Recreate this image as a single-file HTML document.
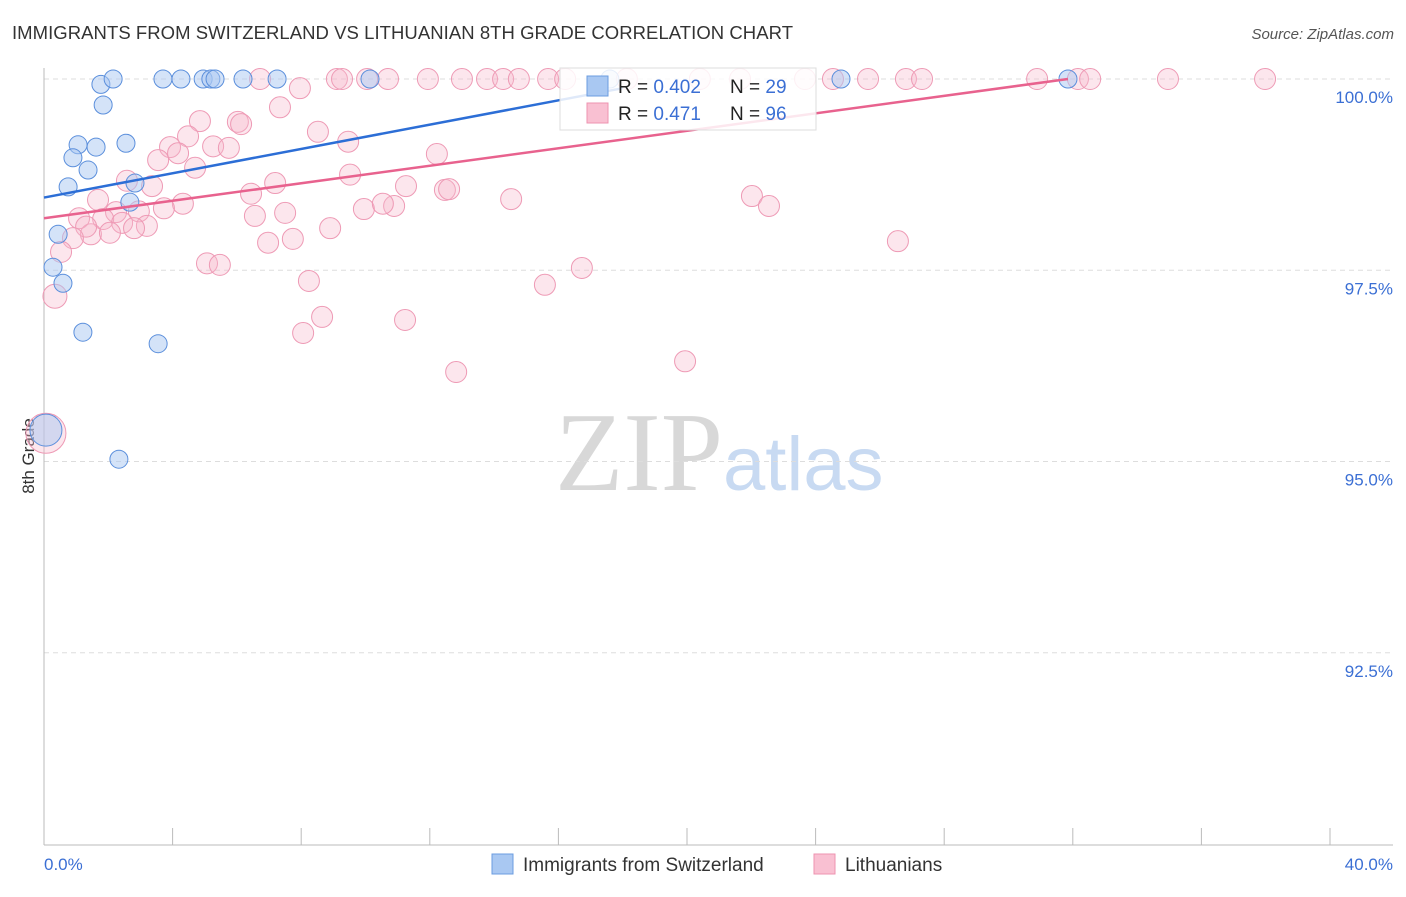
<!DOCTYPE html>
<html><head><meta charset="utf-8"><style>
body{margin:0;background:#fff;font-family:"Liberation Sans",sans-serif;}
</style></head><body>
<svg width="1406" height="892" xmlns="http://www.w3.org/2000/svg" id="svg">
<text x="12" y="39" font-size="18.5" fill="#333" textLength="781">IMMIGRANTS FROM SWITZERLAND VS LITHUANIAN 8TH GRADE CORRELATION CHART</text>
<text x="1394" y="39" font-size="15" fill="#555" font-style="italic" text-anchor="end">Source: ZipAtlas.com</text>
<text x="555" y="490" font-size="112" font-family="Liberation Serif,serif"><tspan fill="#d8d8d8">ZIP</tspan><tspan fill="#c8daf2" font-family="Liberation Sans,sans-serif" font-size="76">atlas</tspan></text>
<g id="grid"></g>
<line x1="44" y1="68" x2="44" y2="845" stroke="#bbb"/>
<line x1="44" y1="845" x2="1393" y2="845" stroke="#bbb"/>
<text transform="translate(34,456) rotate(-90)" font-size="17" fill="#333" text-anchor="middle">8th Grade</text>
<text x="44" y="870" font-size="17" fill="#3b6fd4">0.0%</text>
<text x="1393" y="870" font-size="17" fill="#3b6fd4" text-anchor="end">40.0%</text>
<g id="pts"></g>
<g>
<rect x="560" y="68" width="256" height="62" fill="#fff" fill-opacity="0.85" stroke="#ddd"/>
<rect x="587" y="76" width="21" height="20" fill="#a9c8f2" stroke="#6b9ce0"/>
<rect x="587" y="103" width="21" height="20" fill="#f9c0d2" stroke="#ee93b0"/>
<text x="618" y="93" font-size="19" fill="#222">R = <tspan fill="#3b6fd4">0.402</tspan></text>
<text x="730" y="93" font-size="19" fill="#222">N = <tspan fill="#3b6fd4">29</tspan></text>
<text x="618" y="120" font-size="19" fill="#222">R = <tspan fill="#3b6fd4"> 0.471</tspan></text>
<text x="730" y="120" font-size="19" fill="#222">N = <tspan fill="#3b6fd4">96</tspan></text>
</g>
<g>
<rect x="492" y="854" width="21" height="20" fill="#a9c8f2" stroke="#6b9ce0"/>
<text x="523" y="871" font-size="19" fill="#333">Immigrants from Switzerland</text>
<rect x="814" y="854" width="21" height="20" fill="#f9c0d2" stroke="#ee93b0"/>
<text x="845" y="871" font-size="19" fill="#333">Lithuanians</text>
</g>
</svg>
<script>
const yTicks=[100,97.5,95,92.5];
const yTickLabels=["100.0%","97.5%","95.0%","92.5%"];
const xTicks=[0,4,8,12,16,20,24,28,32,36,40];
const blueX=[1.77,2.15,1.84,3.70,4.26,4.95,5.19,5.32,6.19,7.25,10.14,24.79,31.85,17.6,1.06,0.90,1.62,2.55,1.37,0.75,2.83,2.67,0.44,0.28,0.59,1.21,3.55,2.33,0.06];
const blueY=[99.93,100,99.66,100,100,100,100,100,100,100,100,100,100,100,99.14,98.97,99.11,99.16,98.81,98.59,98.64,98.39,97.97,97.54,97.33,96.69,96.54,95.03,95.41];
const pinkX=[6.72,9.11,9.27,10.05,10.70,11.94,13.00,13.78,14.28,14.77,15.68,16.21,18.13,20.40,21.65,23.67,24.54,25.63,26.81,27.31,30.89,32.16,32.54,34.96,37.98,
7.96,7.34,6.03,8.52,4.85,6.13,4.48,9.46,3.92,4.17,5.26,5.75,3.55,12.22,4.70,9.52,7.19,2.58,3.36,11.26,12.47,12.60,6.44,1.68,4.32,3.73,9.95,10.89,10.54,14.53,22.02,22.55,7.50,6.56,2.24,1.09,1.84,2.95,2.43,3.20,2.80,1.46,2.05,1.31,8.90,7.74,6.97,0.90,0.53,26.56,5.07,5.47,8.24,16.73,15.58,0.34,8.65,11.23,8.06,19.94,12.82,0.06];
const pinkY=[100,100,100,100,100,100,100,100,100,100,100,100,100,100,100,100,100,100,100,100,100,100,100,100,100,
99.88,99.63,99.44,99.31,99.45,99.41,99.25,99.18,99.11,99.03,99.12,99.10,98.94,99.02,98.84,98.75,98.64,98.67,98.60,98.60,98.55,98.56,98.50,98.42,98.37,98.31,98.30,98.34,98.37,98.43,98.47,98.34,98.25,98.21,98.26,98.18,98.17,98.27,98.12,98.08,98.05,97.97,97.99,98.07,98.05,97.91,97.86,97.92,97.74,97.88,97.59,97.57,97.36,97.53,97.31,97.16,96.89,96.85,96.68,96.31,96.17,95.37];
const blueTrend=[[0,98.45],[18,99.88]];
const pinkTrend=[[0,98.18],[31.85,100]];
const NS="http://www.w3.org/2000/svg";
const X=v=>44+v*32.15, Y=v=>79+(100-v)*76.5;
function mk(tag,attrs,parent){const e=document.createElementNS(NS,tag);for(const k in attrs)e.setAttribute(k,attrs[k]);parent.appendChild(e);return e;}
const grid=document.getElementById('grid');
yTicks.forEach((t,i)=>{
 const l=mk('line',{x1:44,x2:1393,y1:Y(t),y2:Y(t),stroke:'#ddd','stroke-dasharray':'5,4'},grid);
 
 
 const tx=mk('text',{x:1393,y:Y(t)+24,'font-size':17,fill:'#3b6fd4','text-anchor':'end'},grid);
 tx.textContent=yTickLabels[i];
 
 
});
xTicks.forEach(t=>{
 const l=mk('line',{x1:X(t),x2:X(t),y1:828,y2:845,stroke:'#bbb'},grid);
 
 
});
const pts=document.getElementById('pts');
function sz(x,y){return (x<0.2&&y<95.6)?20:(x<0.4&&y<97.3)?12:10.5;}
pinkX.forEach((x,i)=>{
 const c=mk('circle',{cx:X(x),cy:Y(pinkY[i]),r:sz(x,pinkY[i]),fill:'#f7b6ca','fill-opacity':0.35,stroke:'#ee9ab5','stroke-width':1},pts);
 
 
});
blueX.forEach((x,i)=>{
 const c=mk('circle',{cx:X(x),cy:Y(blueY[i]),r:(x<0.2&&blueY[i]<95.6)?16:9,fill:'#a9c8f2','fill-opacity':0.5,stroke:'#5b8fdc','stroke-width':1},pts);
 
 
});
const bl=mk('line',{x1:X(blueTrend[0][0]),y1:Y(blueTrend[0][1]),x2:X(blueTrend[1][0]),y2:Y(blueTrend[1][1]),stroke:'#2c6ed6','stroke-width':2.5},pts);


const pl=mk('line',{x1:X(pinkTrend[0][0]),y1:Y(pinkTrend[0][1]),x2:X(pinkTrend[1][0]),y2:Y(pinkTrend[1][1]),stroke:'#e8628e','stroke-width':2.5},pts);


</script>
</body></html>
